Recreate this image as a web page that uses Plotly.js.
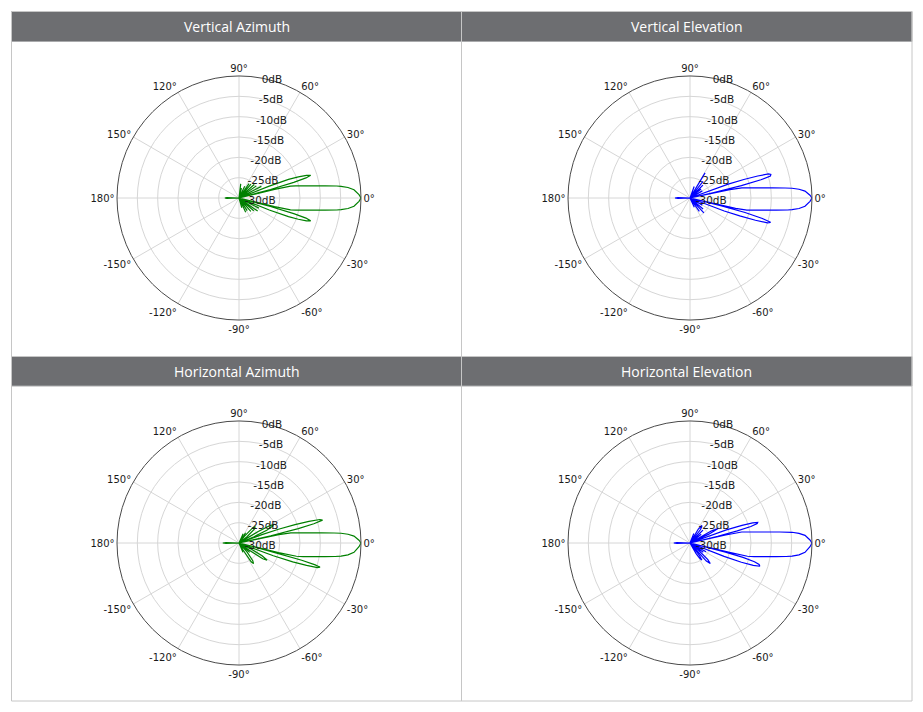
<!DOCTYPE html>
<html>
<head>
<meta charset="utf-8">
<script src="https://cdn.plot.ly/plotly-3.0.1.min.js"></script>
<style>html,body{margin:0;padding:0;background:#fff;}#chart{width:923px;height:712px;}</style>
</head>
<body>
<div id="chart"></div>
<script>
// ---- Data: [angle in degrees, level in dB] ----
const panelTitles = ["Vertical Azimuth", "Vertical Elevation", "Horizontal Azimuth", "Horizontal Elevation"];

const angTickVals = [0, 30, 60, 90, 120, 150, 180, 210, 240, 270, 300, 330];
const angTickText = ["0°", "30°", "60°", "90°", "120°", "150°", "180°", "-150°", "-120°", "-90°", "-60°", "-30°"];
const radTickVals = [-30, -25, -20, -15, -10, -5, 0];
const radTickText = ["-30dB", "-25dB", "-20dB", "-15dB", "-10dB", "-5dB", "0dB"];

const verticalAzimuth = [
  [-180,-26.5],[-178.5,-27],[-176,-30],[-78,-30],[-74,-27.5],[-70,-30],[-65,-26.1],[-61,-30],[-57,-26.3],[-53,-30],
  [-48.7,-25.6],[-45,-30],[-41,-25.2],[-38,-30],[-35,-24.4],[-31,-30],[-27,-24.5],[-24,-30],
  [-22.4,-30],[-21.6,-22],[-20.7,-17],[-19.7,-14.5],[-18.7,-12.5],[-17.7,-11.5],[-16.7,-12.8],[-15.9,-16],[-15.2,-22],[-14.6,-30],
  [-14.1,-30],[-13.6,-21],[-13,-17],[-12,-15.7],[-11,-14.4],[-10,-12.9],[-9,-11],[-8,-8.6],[-7,-5.8],[-6.5,-4.75],[-5.5,-3.07],[-4.1,-1.65],[-1.6,-0.48],[0,0],
  [1.6,-0.48],[4.1,-1.65],[5.5,-3.07],[6.5,-4.75],[7,-5.8],[8,-8.6],[9,-11],[10,-12.9],[11,-14.4],[12,-15.7],[13,-17],[13.6,-21],[14.1,-30],
  [14.6,-30],[15.2,-22],[15.9,-16],[16.7,-12.8],[17.6,-11.5],[18.6,-12.5],[19.6,-14.5],[20.6,-17],[21.5,-22],[22.3,-30],
  [24,-30],[27.5,-23.8],[31,-30],[35,-24.8],[38.5,-30],[41.5,-25],[45,-30],[49,-25.5],[52,-30],[55,-25.7],[59,-30],
  [64,-26.8],[69,-30],[76,-27.5],[80,-30],[83,-26.5],[86,-30],[176,-30],[178.5,-27],[180,-26.5]
];

const verticalElevation = [
  [-180,-26.3],[-178.5,-27],[-176,-30],[-70,-30],[-65,-27.5],[-60,-30],[-55,-26],[-51,-30],[-47,-25],[-43,-30],
  [-40,-25.8],[-35,-30],[-30,-26.5],[-25,-30],
  [-21.5,-30],[-20.8,-21],[-19.8,-17],[-18.8,-13],[-17.8,-10],[-16.8,-9.3],[-15.8,-11.5],[-14.8,-16],[-14,-22],[-13.4,-30],
  [-12.8,-18.5],[-12,-15.7],[-11,-14.4],[-10,-12.9],[-9,-11],[-8,-8.6],[-7,-5.8],[-6.5,-4.75],[-5.5,-3.07],[-4.1,-1.65],[-1.6,-0.48],[0,0],
  [1.31,-0.49],[3.43,-1.67],[4.59,-3.11],[5.46,-4.8],[6,-6.5],[7,-9.6],[8,-12.2],[9,-14.2],[10,-15.7],[11,-17],[11.8,-20],[12.4,-30],
  [13,-24],[13.6,-17],[14.4,-12],[15.3,-9.5],[16.2,-9.3],[17,-9.8],[18,-12.5],[19,-16],[20,-20],[20.8,-30],
  [26,-30],[30,-26.5],[35,-30],[39,-26.5],[42,-30],[45,-25.5],[48,-30],[52,-24.8],[55,-30],[59,-22.8],[63,-30],
  [70,-27],[76,-30],[176,-30],[178.5,-27],[180,-26.3]
];

const horizontalAzimuth = [
  [-180,-26],[-178.5,-26.8],[-176,-30],[-72,-30],[-67,-27.5],[-62,-30],[-60,-28],[-57,-24.5],[-54.8,-23.8],[-52,-24.5],
  [-48,-27],[-44,-30],[-41,-26.5],[-37,-30],[-35.5,-27],[-33.5,-23],[-31.5,-21.9],[-29,-23.5],[-26,-27],[-24,-30],
  [-21,-30],[-20.3,-21],[-19.3,-16],[-18.3,-12.5],[-17.4,-9.8],[-16.6,-9.2],[-16,-10.5],[-15.4,-14],[-14.8,-22],
  [-14.3,-30],[-13.8,-20],[-13,-15.5],[-12,-13.9],[-11,-12.5],[-10,-10.7],[-9,-8.6],[-8,-6.15],[-7.37,-4.7],[-6.18,-3.04],[-4.62,-1.63],[-1.77,-0.48],[0,0],
  [1.31,-0.49],[3.43,-1.67],[4.59,-3.11],[5.46,-4.8],[6,-6.5],[7,-9.6],[8,-12.2],[9,-14.2],[10,-15.7],[11,-17],[11.8,-20],[12.4,-30],
  [12.9,-22],[13.6,-15],[14.4,-11],[15.3,-8.7],[16.2,-9.3],[17.2,-12],[18.2,-15.5],[19.2,-19.5],[20,-24],[20.6,-30],
  [22.5,-26],[24.5,-22.5],[26.5,-20.8],[28,-20.4],[29.5,-21.5],[31,-24.5],[32.5,-30],[38,-27.5],[42,-25],[45.5,-24.3],
  [48,-25],[51,-28],[53,-30],[57,-27],[61,-30],[66,-27.5],[71,-30],[176,-30],[178.5,-26.8],[180,-26]
];

const horizontalElevation = [
  [-180,-26],[-178.5,-26.8],[-176,-30],[-64,-30],[-60,-27],[-57.5,-25.5],[-55.5,-24.9],[-53,-26],[-51,-30],[-48,-24],
  [-45.4,-22.9],[-43,-24],[-40,-27.5],[-38,-30],[-35,-26],[-31,-30],[-28.5,-25.5],[-26,-30],
  [-22.3,-30],[-21.5,-21],[-20.5,-16.5],[-19.5,-13.5],[-18.4,-11.9],[-17.3,-12.2],[-16.2,-13.5],[-15.2,-16.5],[-14.4,-21],[-13.8,-30],
  [-13.4,-20],[-13,-15.5],[-12,-13.9],[-11,-12.5],[-10,-10.7],[-9,-8.6],[-8,-6.15],[-7.37,-4.7],[-6.18,-3.04],[-4.62,-1.63],[-1.77,-0.48],[0,0],
  [1.43,-0.49],[3.78,-1.66],[5.03,-3.1],[6,-4.77],[7,-7.8],[8,-10.6],[9,-12.7],[10,-14.4],[11,-15.8],[12,-17],[12.6,-21],[13.1,-30],
  [13.7,-23],[14.4,-18],[15.2,-14.5],[16.1,-12.8],[16.9,-12.6],[17.8,-13.8],[18.8,-16.5],[19.8,-20.5],[20.6,-30],
  [23,-30],[25,-25],[27.4,-22.1],[29.5,-24],[31.5,-30],[35,-30],[38,-26.5],[41,-30],[45,-25.5],[49,-30],[52,-25.8],
  [54,-25.2],[56,-24.8],[59,-26],[62,-30],[68,-27.5],[73,-30],[176,-30],[178.5,-26.8],[180,-26]
];

const patterns = [verticalAzimuth, verticalElevation, horizontalAzimuth, horizontalElevation];
const seriesColor = ["#008000", "#0000ff", "#008000", "#0000ff"];

// ---- Layout geometry (pixels) ----
const W = 923, H = 712;
const px = x => x / W;
const py = y => 1 - y / H;
const centers = [[239, 198], [690, 198], [239, 543], [690, 543]];
const R = 122;

const traces = [];
const layout = {
  width: W, height: H,
  margin: {l: 0, r: 0, t: 0, b: 0},
  paper_bgcolor: "#ffffff",
  showlegend: false,
  font: {family: "DejaVu Sans", size: 10, color: "#1a1a1a"},
  shapes: [], annotations: []
};

for (let i = 0; i < 4; i++) {
  const key = i === 0 ? "polar" : "polar" + (i + 1);
  const [cx, cy] = centers[i];
  layout[key] = {
    domain: {x: [px(cx - R), px(cx + R)], y: [py(cy + R), py(cy - R)]},
    bgcolor: "#ffffff",
    angularaxis: {
      rotation: 0, direction: "counterclockwise",
      tickmode: "array", tickvals: angTickVals, ticktext: angTickText,
      showline: true, linecolor: "#4a4a4a", linewidth: 1,
      gridcolor: "#d6d6d6", gridwidth: 1, ticks: "",
      tickfont: {family: "DejaVu Sans", size: 10, color: "#1a1a1a"}
    },
    radialaxis: {
      range: [-30, 0], angle: 82, side: "clockwise",
      tickmode: "array", tickvals: radTickVals, ticktext: radTickText,
      showline: false, ticks: "", gridcolor: "#d6d6d6", gridwidth: 1,
      tickangle: 82,
      tickfont: {family: "DejaVu Sans", size: 10.5, color: "#1a1a1a"}
    }
  };
  traces.push({
    type: "scatterpolar", mode: "lines",
    theta: patterns[i].map(p => p[0]), r: patterns[i].map(p => p[1]),
    subplot: key,
    line: {color: seriesColor[i], width: 1.2},
    hoverinfo: "skip"
  });
}

// frame, headers, dividers
const L = 11.5, Rr = 912, T = 11.5, B = 701, MX = 461.5, MY = 356.5;
const headers = [[T, T + 30], [MY, MY + 29.5]];
headers.forEach(h => {
  layout.shapes.push({type: "rect", xref: "paper", yref: "paper", layer: "below",
    x0: px(L), x1: px(Rr), y0: py(h[1]), y1: py(h[0]),
    fillcolor: "#6d6e71", line: {color: "#a9aaac", width: 1}});
});
layout.shapes.push({type: "rect", xref: "paper", yref: "paper", layer: "below",
  x0: px(L), x1: px(Rr), y0: py(B), y1: py(T), fillcolor: "rgba(0,0,0,0)", line: {color: "#c6c6c6", width: 1}});
layout.shapes.push({type: "line", xref: "paper", yref: "paper", layer: "below",
  x0: px(MX), x1: px(MX), y0: py(B), y1: py(T), line: {color: "#c6c6c6", width: 1}});
layout.shapes.push({type: "line", xref: "paper", yref: "paper", layer: "below",
  x0: px(L), x1: px(Rr), y0: py(MY), y1: py(MY), line: {color: "#c6c6c6", width: 1}});

const titlePos = [[(L + MX) / 2, T + 15], [(MX + Rr) / 2, T + 15], [(L + MX) / 2, MY + 15], [(MX + Rr) / 2, MY + 15]];
for (let i = 0; i < 4; i++) {
  layout.annotations.push({xref: "paper", yref: "paper", x: px(titlePos[i][0]), y: py(titlePos[i][1]),
    text: panelTitles[i], showarrow: false, xanchor: "center", yanchor: "middle",
    font: {family: "Open Sans", size: 14, color: "#ffffff"}});
}

Plotly.newPlot("chart", traces, layout, {displayModeBar: false, staticPlot: true});
</script>
</body>
</html>
